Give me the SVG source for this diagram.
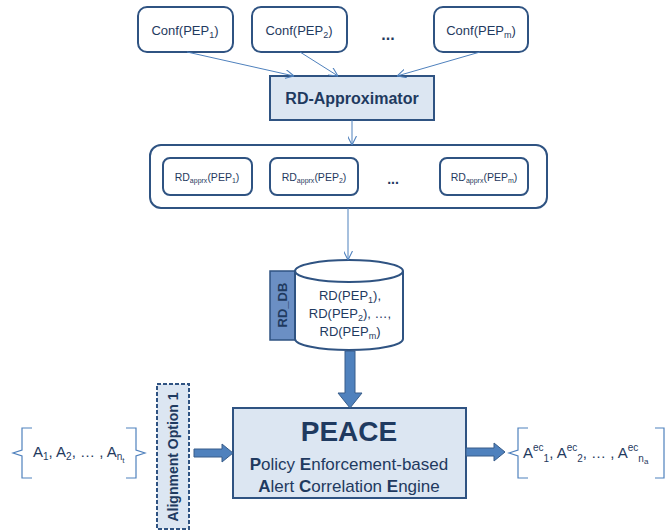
<svg xmlns="http://www.w3.org/2000/svg" width="665" height="532" viewBox="0 0 665 532">
<defs>
<style>
text{font-family:"Liberation Sans",Arial,sans-serif;fill:#1f3a60}
.box{fill:#fff;stroke:#2f5382;stroke-width:2}
.thin{stroke:#4f81bd;stroke-width:1;fill:none}
.fat{fill:#4f81bd;stroke:#385d8a;stroke-width:1}
.brace{fill:none;stroke:#4f81bd;stroke-width:1.2}
.c{text-anchor:middle}
</style>
<marker id="ah" viewBox="0 0 10 10" refX="10" refY="5" markerWidth="9" markerHeight="9" orient="auto" markerUnits="userSpaceOnUse">
<path d="M0,0 L10,5 L0,10" fill="none" stroke="#4f81bd" stroke-width="1.2"/>
</marker>
</defs>
<rect width="665" height="532" fill="#fff"/>

<g id="conf1"><rect class="box" x="138" y="7" width="95" height="45" rx="9"/><text class="c" x="185" y="35" font-size="13">Conf(PEP<tspan font-size="9" dy="3">1</tspan><tspan dy="-3">)</tspan></text></g>
<g id="conf2"><rect class="box" x="252" y="7" width="95" height="45" rx="9"/><text class="c" x="299" y="35" font-size="13">Conf(PEP<tspan font-size="9" dy="3">2</tspan><tspan dy="-3">)</tspan></text></g>
<g id="dots1"><text class="c" x="388" y="40" font-size="16" font-weight="bold">...</text></g>
<g id="confm"><rect class="box" x="434" y="7" width="94" height="45" rx="9"/><text class="c" x="481" y="35" font-size="13">Conf(PEP<tspan font-size="9" dy="3">m</tspan><tspan dy="-3">)</tspan></text></g>

<g id="approx"><rect x="270" y="76" width="164" height="44" fill="#dce6f2" stroke="#2f5382" stroke-width="2"/><text class="c" x="352" y="104" font-size="16" font-weight="bold">RD-Approximator</text></g>

<g id="container"><rect class="box" x="150" y="145" width="397" height="63" rx="11"/></g>
<g id="rd1"><rect class="box" x="163" y="158" width="89" height="37" rx="7"/><text class="c" x="207" y="181" font-size="10.5">RD<tspan font-size="7" dy="2">apprx</tspan><tspan dy="-2">(PEP</tspan><tspan font-size="7" dy="2">1</tspan><tspan dy="-2">)</tspan></text></g>
<g id="rd2"><rect class="box" x="270" y="158" width="88" height="37" rx="7"/><text class="c" x="314" y="181" font-size="10.5">RD<tspan font-size="7" dy="2">apprx</tspan><tspan dy="-2">(PEP</tspan><tspan font-size="7" dy="2">2</tspan><tspan dy="-2">)</tspan></text></g>
<g id="dots2"><text class="c" x="393" y="184" font-size="14" font-weight="bold">...</text></g>
<g id="rdm"><rect class="box" x="440" y="158" width="88" height="37" rx="7"/><text class="c" x="484" y="181" font-size="10.5">RD<tspan font-size="7" dy="2">apprx</tspan><tspan dy="-2">(PEP</tspan><tspan font-size="7" dy="2">m</tspan><tspan dy="-2">)</tspan></text></g>

<g id="rddb">
<rect x="270" y="271" width="25" height="69" fill="#6b8fc4" stroke="#2f5382" stroke-width="1.5"/>
<text class="c" transform="translate(287,305) rotate(-90)" font-size="13" font-weight="bold">RD_DB</text>
<path d="M295,271 L295,339 A54,11 0 0 0 403,339 L403,271 A54,11 0 0 0 295,271 A54,11 0 0 0 403,271" fill="#fff" stroke="#2f5382" stroke-width="2"/>
<text class="c" x="350" y="300" font-size="13">RD(PEP<tspan font-size="9" dy="3">1</tspan><tspan dy="-3">),</tspan></text>
<text class="c" x="350" y="318" font-size="13">RD(PEP<tspan font-size="9" dy="3">2</tspan><tspan dy="-3">), …,</tspan></text>
<text class="c" x="350" y="336" font-size="13">RD(PEP<tspan font-size="9" dy="3">m</tspan><tspan dy="-3">)</tspan></text>
</g>

<g id="peace"><rect x="233" y="408" width="233" height="90" fill="#dce6f2" stroke="#2f5382" stroke-width="2"/>
<text class="c" x="349" y="441" font-size="28" font-weight="bold">PEACE</text>
<text class="c" x="349" y="470" font-size="17"><tspan font-weight="bold">P</tspan>olicy <tspan font-weight="bold">E</tspan>nforcement-based</text>
<text class="c" x="349" y="492" font-size="17"><tspan font-weight="bold">A</tspan>lert <tspan font-weight="bold">C</tspan>orrelation <tspan font-weight="bold">E</tspan>ngine</text>
</g>

<g id="align"><rect x="157" y="384" width="32" height="145" fill="#dce6f2" stroke="#2f5382" stroke-width="2" stroke-dasharray="4,2"/>
<text class="c" transform="translate(178,457) rotate(-90)" font-size="14" font-weight="bold">Alignment Option 1</text></g>

<g id="input">
<path class="brace" d="M32,428 L22,428 L22,450 L13,453 L22,456 L22,478 L32,478"/>
<path class="brace" d="M126,428 L136,428 L136,450 L145,453 L136,456 L136,478 L126,478"/>
<text x="33" y="457" font-size="15">A<tspan font-size="10" dy="3">1</tspan><tspan dy="-3">, A</tspan><tspan font-size="10" dy="3">2</tspan><tspan dy="-3">, … , A</tspan><tspan font-size="10" dy="3">n</tspan><tspan font-size="8" dy="3">t</tspan></text>
</g>

<g id="output">
<path class="brace" d="M528,428 L518,428 L518,450 L509,453 L518,456 L518,478 L528,478"/>
<path class="brace" d="M655,428 L664,428 L664,478 L655,478"/>
<text x="523" y="458" font-size="15">A<tspan font-size="10" dy="-7">ec</tspan><tspan font-size="10" dy="11">1</tspan><tspan dy="-4">, A</tspan><tspan font-size="10" dy="-7">ec</tspan><tspan font-size="10" dy="11">2</tspan><tspan dy="-4">, … , A</tspan><tspan font-size="10" dy="-7">ec</tspan><tspan font-size="10" dy="11">n</tspan><tspan font-size="8" dy="2">a</tspan></text>
</g>

<g id="connectors">
<line class="thin" x1="187" y1="52" x2="294" y2="76" marker-end="url(#ah)"/>
<line class="thin" x1="300" y1="52" x2="338" y2="76" marker-end="url(#ah)"/>
<line class="thin" x1="480" y1="52" x2="397" y2="76" marker-end="url(#ah)"/>
<line class="thin" x1="352" y1="120" x2="352" y2="145" marker-end="url(#ah)"/>
<line class="thin" x1="348" y1="208" x2="348" y2="260" marker-end="url(#ah)"/>
<path class="fat" d="M345,351 L355,351 L355,393 L362,393 L350,408 L338,393 L345,393 Z"/>
<path class="fat" d="M194,449 L222,449 L222,444 L233,453 L222,462 L222,457 L194,457 Z"/>
<path class="fat" d="M466,448 L494,448 L494,443 L505,452 L494,461 L494,456 L466,456 Z"/>
</g>
</svg>
